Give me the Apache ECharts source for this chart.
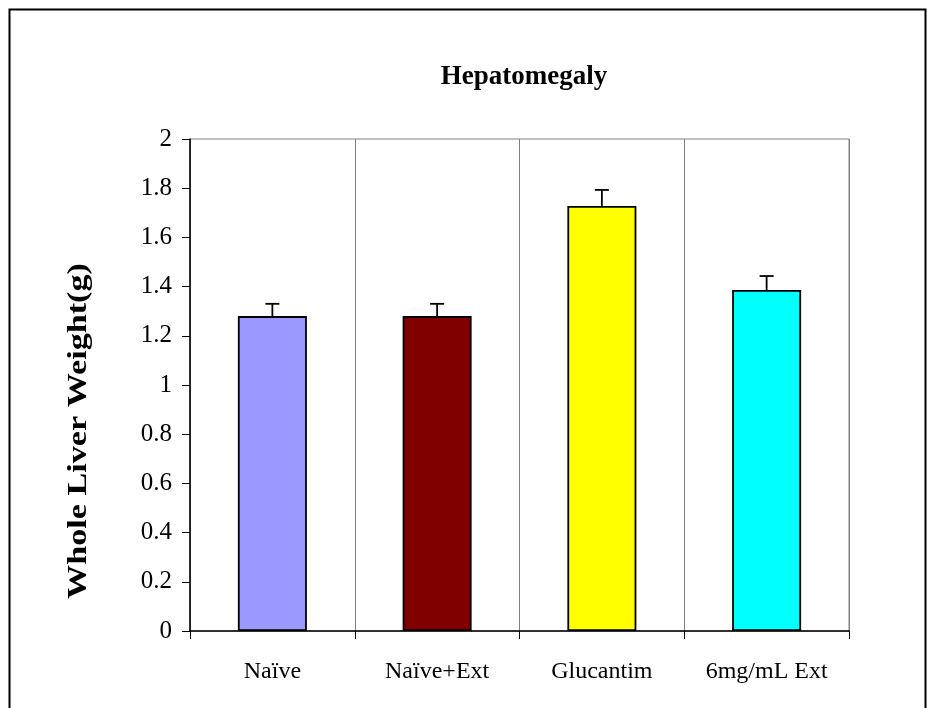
<!DOCTYPE html>
<html>
<head>
<meta charset="utf-8">
<script src="https://cdn.jsdelivr.net/npm/echarts@6/dist/echarts.min.js"></script>
<style>
  html, body { margin: 0; padding: 0; background: #fff; }
  #chart { width: 936px; height: 708px; }
</style>
</head>
<body>
<div id="chart"></div>
<script>
var categories = ['Naïve', 'Naïve+Ext', 'Glucantim', '6mg/mL Ext']
var values = [1.28, 1.28, 1.728, 1.386]
var errors = [0.05, 0.05, 0.065, 0.057]
var colors = ['#9999FF', '#800000', '#FFFF00', '#00FFFF']
var yTicks = [0, 0.2, 0.4, 0.6, 0.8, 1, 1.2, 1.4, 1.6, 1.8, 2]

var font = '"Liberation Serif", "Times New Roman", serif'
var myChart = echarts.init(document.getElementById('chart'))

var option = {
  animation: false,
  backgroundColor: '#fff',
  title: {
    text: 'Hepatomegaly',
    left: 519,
    top: 59,
    textAlign: 'center',
    textStyle: { fontFamily: font, fontSize: 27, fontWeight: 'bold', color: '#000' }
  },
  graphic: [
    {
      type: 'rect',
      shape: { x: 9.5, y: 9.5, width: 916, height: 710 },
      style: { fill: 'none', stroke: '#000', lineWidth: 2 }
    },
    {
      // y axis title, stretched along its length like the original
      type: 'text',
      x: 79,
      y: 431,
      rotation: Math.PI / 2,
      scaleX: 1.22,
      style: {
        text: 'Whole Liver Weight(g)',
        fontFamily: font,
        fontSize: 28,
        fontWeight: 'bold',
        fill: '#000',
        align: 'center',
        verticalAlign: 'middle'
      }
    }
  ],
  grid: {
    left: 190,
    right: 87,
    top: 139,
    bottom: 77,
    show: true,
    borderColor: '#808080',
    borderWidth: 1
  },
  xAxis: {
    type: 'category',
    data: categories,
    axisLine: { lineStyle: { color: '#000', width: 1.5 } },
    axisTick: { show: true, length: 8, lineStyle: { color: '#000' } },
    axisLabel: { fontFamily: font, fontSize: 24, color: '#000', margin: 29 },
    splitLine: { show: true, lineStyle: { color: '#808080', width: 1 } }
  },
  yAxis: {
    type: 'value',
    min: 0,
    max: 2,
    interval: 0.2,
    axisLine: { show: true, lineStyle: { color: '#000', width: 1.5 } },
    axisTick: { show: true, length: 8, lineStyle: { color: '#000' } },
    axisLabel: {
      fontFamily: font, fontSize: 25, color: '#000', margin: 18,
      formatter: function (v) {
        var t = yTicks.find(function (k) { return Math.abs(k - v) < 1e-9 })
        return t === undefined ? '' : String(t)
      }
    },
    splitLine: { show: false }
  },
  series: [
    {
      type: 'bar',
      barWidth: 69,
      data: values.map(function (v, i) {
        return { value: v, itemStyle: { color: colors[i] } }
      }),
      itemStyle: { borderColor: '#000', borderWidth: 1.8 },
      z: 3
    },
    {
      type: 'custom',
      z: 4,
      data: values.map(function (v, i) { return [i, v, v + errors[i]] }),
      renderItem: function (params, api) {
        var base = api.coord([api.value(0), api.value(1)])
        var top = api.coord([api.value(0), api.value(2)])
        var half = 7
        return {
          type: 'group',
          children: [
            {
              type: 'line',
              shape: { x1: base[0], y1: base[1], x2: top[0], y2: top[1] },
              style: { stroke: '#000', lineWidth: 1.8 }
            },
            {
              type: 'line',
              shape: { x1: top[0] - half, y1: top[1], x2: top[0] + half, y2: top[1] },
              style: { stroke: '#000', lineWidth: 1.8 }
            }
          ]
        }
      }
    }
  ]
}

myChart.setOption(option)
</script>
</body>
</html>
